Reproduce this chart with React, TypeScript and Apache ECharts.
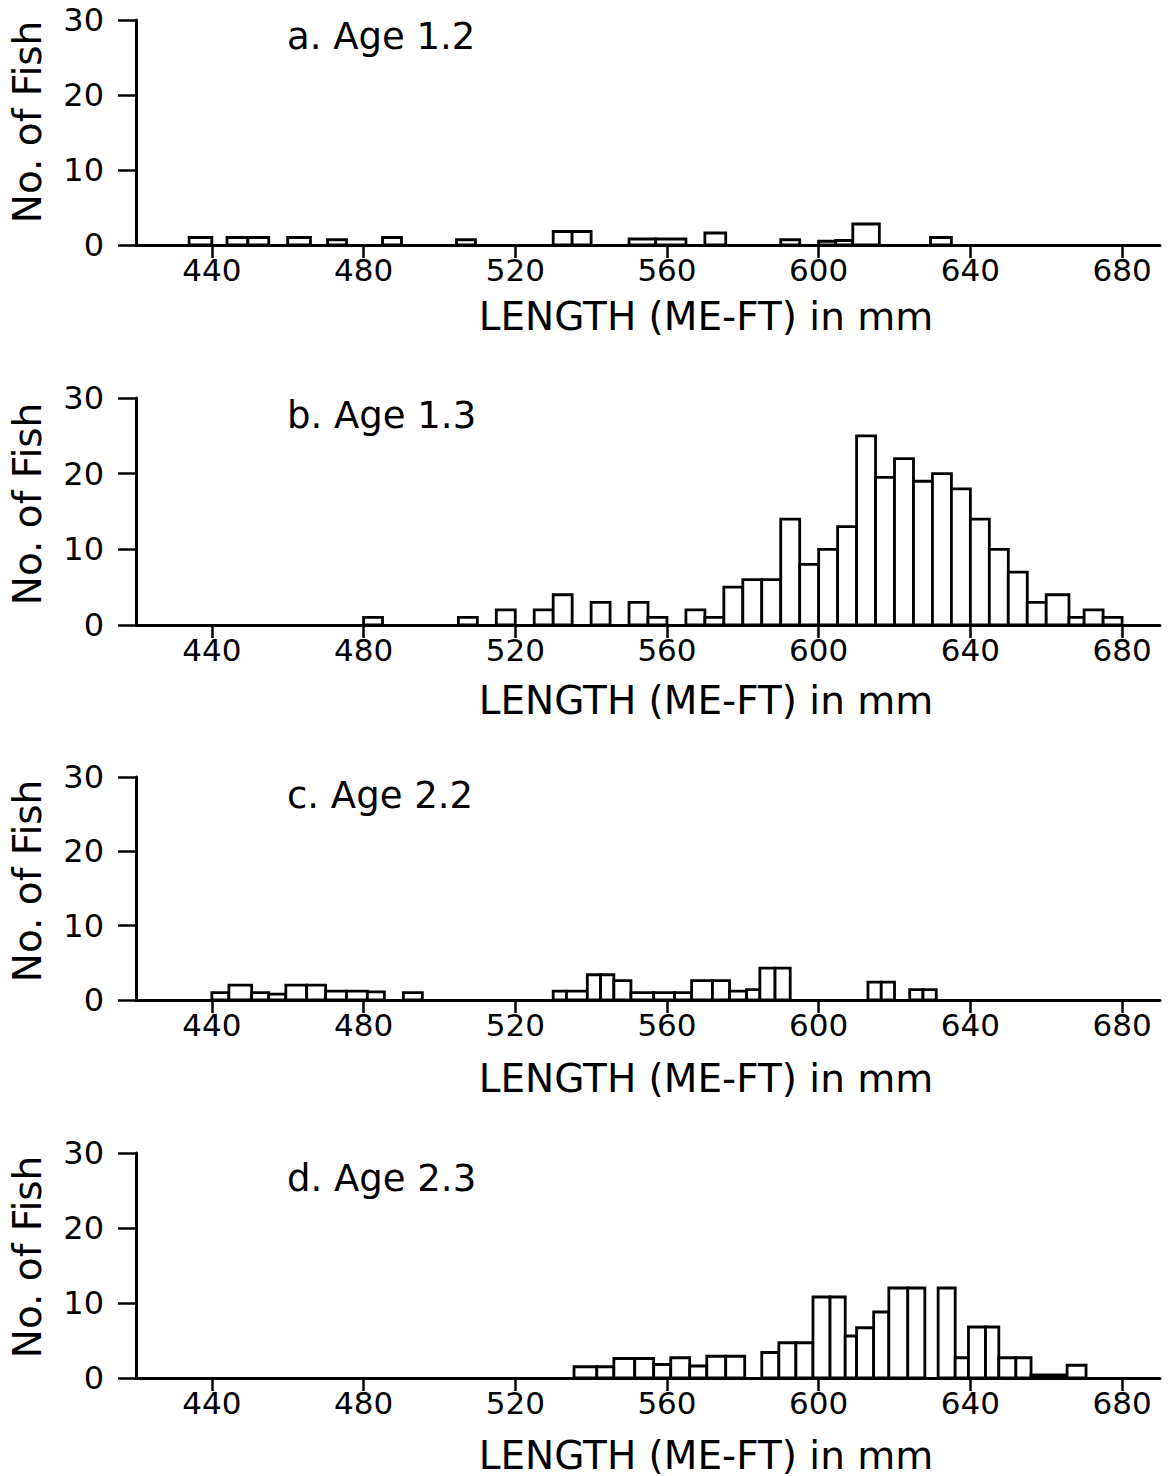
import React, { useEffect, useRef } from "react";
import * as echarts from "echarts";

// Histogram bins: [from mm, to mm, number of fish]
const ageA: [number, number, number][] = [
  [434, 440, 1], [444, 449.5, 1], [449.5, 455, 1], [460, 466, 1], [470.5, 475.5, 0.7],
  [485, 490, 1], [504.5, 509.5, 0.7], [530, 535, 1.8], [535, 540, 1.8], [550, 557, 0.8],
  [557, 565, 0.8], [570, 575.5, 1.6], [590, 595, 0.7], [600, 604.5, 0.5], [604.5, 609, 0.6],
  [609, 616, 2.8], [629.5, 635, 1],
];

const ageB: [number, number, number][] = [
  [480, 485, 1], [505, 510, 1], [515, 520, 2], [525, 530, 2], [530, 535, 4], [540, 545, 3],
  [550, 555, 3], [555, 560, 1], [565, 570, 2], [570, 575, 1], [575, 580, 5], [580, 585, 6],
  [585, 590, 6], [590, 595, 14], [595, 600, 8], [600, 605, 10], [605, 610, 13], [610, 615, 25],
  [615, 620, 19.5], [620, 625, 22], [625, 630, 19], [630, 635, 20], [635, 640, 18], [640, 645, 14],
  [645, 650, 10], [650, 655, 7], [655, 660, 3], [660, 666, 4], [666, 670, 1], [670, 675, 2],
  [675, 680, 1],
];

const ageC: [number, number, number][] = [
  [440, 444.5, 1], [444.5, 450.5, 2], [450.5, 455, 1], [455, 459.5, 0.8], [459.5, 465, 2],
  [465, 470, 2], [470, 475.5, 1.2], [475.5, 481, 1.2], [481, 485.5, 1.1], [490.5, 495.5, 1],
  [530, 533.5, 1.2], [533.5, 539, 1.2], [539, 542.5, 3.4], [542.5, 546, 3.4], [546, 550.5, 2.6],
  [550.5, 556.5, 1], [556.5, 562, 1], [562, 566.5, 1], [566.5, 572, 2.6], [572, 576.5, 2.6],
  [576.5, 581, 1.2], [581, 584.5, 1.4], [584.5, 588.5, 4.3], [588.5, 592.5, 4.3],
  [613, 616.5, 2.4], [616.5, 620, 2.4], [624, 627.5, 1.4], [627.5, 631, 1.4],
];

const ageD: [number, number, number][] = [
  [535.5, 541.5, 1.5], [541.5, 546, 1.5], [546, 551.5, 2.6], [551.5, 556.5, 2.6], [556.5, 561, 1.8],
  [561, 566, 2.7], [566, 570.5, 1.6], [570.5, 575.5, 2.9], [575.5, 580.5, 2.9], [585, 589.5, 3.4],
  [589.5, 594, 4.7], [594, 598.5, 4.7], [598.5, 603, 10.8], [603, 607, 10.8], [607, 610, 5.6],
  [610, 614.5, 6.7], [614.5, 618.5, 8.8], [618.5, 623.5, 12], [623.5, 628, 12], [631.5, 636, 12],
  [636, 639.5, 2.7], [639.5, 644, 6.8], [644, 647.5, 6.8], [647.5, 652, 2.7], [652, 656, 2.7],
  [656, 665.5, 0.4], [665.5, 670.5, 1.7],
];

const xTickValues = [440, 480, 520, 560, 600, 640, 680];
const titles = ["a. Age 1.2", "b. Age 1.3", "c. Age 2.2", "d. Age 2.3"];
const xAxisName = "LENGTH (ME-FT) in mm";
const yAxisName = "No. of Fish";

const FONT = "'DejaVu Sans', sans-serif";

const layout = [
  { top: 20, height: 225, titleY: 36, labelName: 316, yName: 122 },
  { top: 398, height: 227, titleY: 415, labelName: 700, yName: 504 },
  { top: 777, height: 223, titleY: 795, labelName: 1078, yName: 881 },
  { top: 1153, height: 225, titleY: 1178, labelName: 1455, yName: 1257 },
];

const panelsData = [ageA, ageB, ageC, ageD];

export default function App() {
  const ref = useRef<HTMLDivElement>(null);
  useEffect(() => {
    if (!ref.current) return;
    const chart = echarts.init(ref.current, null, { renderer: "svg" });
    const grid = layout.map((l) => ({ left: 136, top: l.top, width: 1024, height: l.height }));
    const xAxis = layout.map((_, i) => ({
      type: "value",
      gridIndex: i,
      min: 420,
      max: 690,
      axisLine: { show: true, onZero: false, lineStyle: { color: "#000", width: 3 } },
      axisTick: { show: true, customValues: xTickValues, length: 13, lineStyle: { color: "#000", width: 2.5 } },
      axisLabel: { show: true, customValues: xTickValues, margin: 9, fontSize: 31, color: "#000", fontFamily: FONT },
      splitLine: { show: false },
    }));
    const yAxis = layout.map((_, i) => ({
      type: "value",
      gridIndex: i,
      min: 0,
      max: 30,
      interval: 10,
      axisLine: { show: true, onZero: false, lineStyle: { color: "#000", width: 3 } },
      axisTick: { show: true, length: 18, lineStyle: { color: "#000", width: 2.5 } },
      axisLabel: { show: true, margin: 32, fontSize: 32, color: "#000", fontFamily: FONT },
      splitLine: { show: false },
    }));
    const series = panelsData.map((d, i) => ({
      type: "custom",
      xAxisIndex: i,
      yAxisIndex: i,
      data: d,
      encode: { x: [0, 1], y: 2 },
      renderItem: (_params: any, api: any) => {
        const s = api.coord([api.value(0), api.value(2)]);
        const e = api.coord([api.value(1), 0]);
        return {
          type: "rect",
          shape: { x: s[0], y: s[1], width: e[0] - s[0], height: e[1] - s[1] },
          style: { fill: "#fff", stroke: "#000", lineWidth: 2.8 },
        };
      },
    }));
    const graphic: any[] = [];
    layout.forEach((l, i) => {
      graphic.push({
        type: "text",
        x: 287,
        y: l.titleY,
        style: { text: titles[i], font: `37px ${FONT}`, fill: "#000", textVerticalAlign: "middle" },
      });
      graphic.push({
        type: "text",
        x: 706,
        y: l.labelName,
        style: { text: xAxisName, font: `39px ${FONT}`, fill: "#000", textAlign: "center", textVerticalAlign: "middle" },
      });
      graphic.push({
        type: "text",
        x: 27,
        y: l.yName,
        rotation: Math.PI / 2,
        style: { text: yAxisName, font: `39px ${FONT}`, fill: "#000", textAlign: "center", textVerticalAlign: "middle" },
      });
    });
    chart.setOption({
      animation: false,
      backgroundColor: "#fff",
      grid,
      xAxis,
      yAxis,
      series,
      graphic,
    });
    return () => chart.dispose();
  }, []);
  return (
    <div
      ref={ref}
      style={{ position: "absolute", left: 0, top: 0, width: 1170, height: 1476, background: "#fff" }}
    />
  );
}
